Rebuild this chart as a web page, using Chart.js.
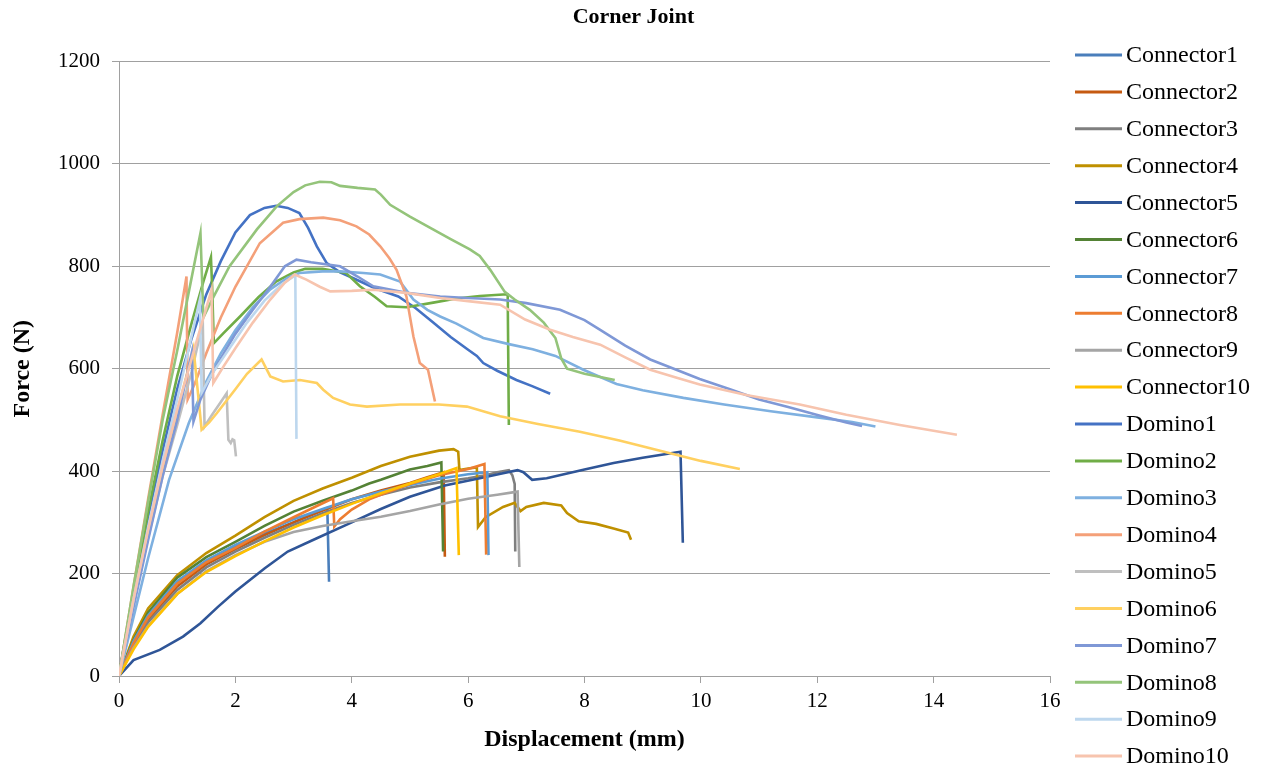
<!DOCTYPE html>
<html lang="en">
<head>
<meta charset="UTF-8">
<title>Corner Joint</title>
<script src="https://cdn.jsdelivr.net/npm/chart.js"></script>
<style>
    body { margin: 0; background: #fff; }
    #wrap { width: 1267px; height: 771px; }
</style>
</head>
<body>
<div id="wrap"><canvas id="chart" width="1267" height="771"></canvas></div>
<script>
// displacement (mm), force (N) pairs
const connector1 = [[0,0],[0.25,66],[0.5,118],[1,183],[1.5,222],[2,252],[2.5,278],[3,300],[3.3,315],[3.58,328],[3.61,184]];
const connector2 = [[0,0],[0.25,62],[0.5,110],[1,175],[1.5,218],[2,248],[2.5,275],[3,300],[3.5,323],[4,345],[4.5,362],[5,377],[5.3,388],[5.58,398],[5.6,233]];
const connector3 = [[0,0],[0.25,58],[0.5,105],[1,168],[1.5,212],[2,243],[2.5,270],[3,295],[3.5,318],[4,338],[4.5,354],[5,368],[5.5,378],[6,386],[6.3,392],[6.5,398],[6.7,402],[6.76,392],[6.8,375],[6.81,243]];
const connector4 = [[0,0],[0.25,77],[0.5,132],[1,197],[1.5,240],[2,274],[2.5,310],[3,342],[3.5,366],[4,387],[4.5,410],[5,428],[5.5,440],[5.75,443],[5.83,438],[5.85,402],[6,405],[6.15,407],[6.17,291],[6.3,310],[6.6,330],[6.8,338],[6.9,322],[7,330],[7.3,338],[7.6,333],[7.7,318],[7.9,302],[8.2,297],[8.5,288],[8.75,280],[8.8,266]];
const connector5 = [[0,0],[0.25,31],[0.7,51],[1.1,77],[1.4,103],[1.7,135],[2,165],[2.5,210],[2.9,243],[3.4,269],[4,300],[4.5,326],[5,350],[5.6,372],[6.2,386],[6.6,396],[6.85,402],[6.95,398],[7.1,383],[7.35,386],[8,403],[8.5,416],[9,426],[9.65,438],[9.69,260]];
const connector6 = [[0,0],[0.25,70],[0.5,124],[1,192],[1.5,232],[2,262],[2.5,293],[3,321],[3.5,342],[4,362],[4.3,376],[4.5,383],[5,403],[5.3,410],[5.54,417],[5.57,243]];
const connector7 = [[0,0],[0.25,68],[0.5,118],[1,185],[1.5,226],[2,256],[2.5,282],[3,306],[3.5,326],[4,345],[4.5,360],[5,373],[5.5,385],[6,394],[6.33,398],[6.35,236]];
const connector8 = [[0,0],[0.25,64],[0.5,114],[1,180],[1.5,222],[2,250],[2.5,282],[3,310],[3.4,332],[3.68,347],[3.7,292],[3.8,306],[4,325],[4.3,345],[4.6,358],[5,375],[5.5,392],[6,404],[6.28,414],[6.31,237]];
const connector9 = [[0,0],[0.25,55],[0.5,98],[1,160],[1.5,205],[2,236],[2.5,262],[3,281],[3.5,293],[4,302],[4.5,311],[5,322],[5.5,335],[6,346],[6.5,354],[6.85,360],[6.88,213]];
const connector10 = [[0,0],[0.25,52],[0.5,96],[1,160],[1.5,203],[2,234],[2.5,263],[3,290],[3.5,314],[4,336],[4.5,357],[5,376],[5.5,394],[5.8,406],[5.84,236]];

const domino1 = [[0,0],[0.25,165],[0.5,310],[0.75,440],[1,560],[1.25,660],[1.5,745],[1.75,810],[2,866],[2.25,900],[2.5,914],[2.7,918],[2.9,914],[3.1,904],[3.25,875],[3.4,839],[3.57,806],[3.8,788],[4,778],[4.4,757],[4.8,741],[5.1,718],[5.4,690],[5.7,662],[6,637],[6.15,625],[6.26,611],[6.5,596],[6.83,578],[7.1,566],[7.41,551]];
const domino2 = [[0,0],[0.25,165],[0.5,320],[0.75,460],[1,585],[1.25,690],[1.45,770],[1.58,818],[1.6,761],[1.63,650],[1.8,670],[2.08,702],[2.4,740],[2.7,770],[3,788],[3.2,795],[3.5,795],[3.9,787],[4.14,761],[4.4,740],[4.6,722],[4.94,720],[5.4,729],[5.8,737],[6.2,742],[6.6,745],[6.68,745],[6.7,490]];
const domino3 = [[0,0],[0.25,115],[0.5,230],[0.86,383],[1.2,494],[1.5,575],[1.75,630],[2,675],[2.3,720],[2.6,755],[2.9,778],[3.1,787],[3.5,790],[3.8,790],[4.2,787],[4.49,784],[4.83,770],[5.06,735],[5.3,715],[5.52,702],[5.8,688],[6.26,660],[6.7,648],[7.11,638],[7.5,625],[7.98,598],[8.55,570],[9,558],[9.7,543],[10.4,530],[11.2,517],[12,505],[12.6,496],[13,487]];
const domino4 = [[0,0],[0.25,175],[0.5,345],[0.75,510],[1,670],[1.16,780],[1.18,540],[1.3,570],[1.5,630],[1.75,700],[2,760],[2.42,845],[2.82,885],[3.1,892],[3.51,895],[3.8,890],[4.08,878],[4.3,862],[4.49,839],[4.65,815],[4.77,793],[4.94,741],[5.06,663],[5.17,611],[5.31,598],[5.43,536]];
const domino5 = [[0,0],[0.25,140],[0.5,270],[0.75,390],[1,490],[1.25,595],[1.44,690],[1.47,487],[1.6,510],[1.75,535],[1.85,552],[1.88,461],[1.92,455],[1.95,462],[1.98,460],[2.01,429]];
const domino6 = [[0,0],[0.25,145],[0.5,280],[0.75,400],[1,515],[1.28,640],[1.42,481],[1.55,495],[1.68,513],[2,560],[2.2,590],[2.45,618],[2.6,585],[2.82,575],[3.11,578],[3.4,572],[3.51,559],[3.68,543],[3.97,530],[4.26,526],[4.83,530],[5.5,530],[5.98,526],[6.55,507],[7.2,492],[7.92,477],[8.6,460],[9.3,440],[10,420],[10.67,404]];
const domino7 = [[0,0],[0.25,135],[0.5,265],[0.75,390],[1,500],[1.25,631],[1.28,497],[1.4,540],[1.6,590],[1.8,630],[2,668],[2.3,715],[2.6,760],[2.85,800],[3.05,813],[3.3,808],[3.8,800],[4.1,780],[4.37,761],[4.94,748],[5.52,741],[6,738],[6.55,735],[7,728],[7.58,715],[8,695],[8.27,676],[8.7,645],[9.13,618],[9.6,597],[9.98,580],[10.5,560],[11,540],[11.5,525],[12.05,508],[12.5,495],[12.77,488]];
const domino8 = [[0,0],[0.25,175],[0.5,340],[0.75,500],[1,635],[1.2,750],[1.4,865],[1.45,700],[1.6,735],[1.9,800],[2.37,872],[2.71,917],[3,945],[3.2,958],[3.45,965],[3.65,964],[3.8,957],[4.1,953],[4.4,950],[4.5,940],[4.66,920],[5,897],[5.35,875],[5.7,853],[6.03,833],[6.2,820],[6.38,793],[6.63,750],[6.8,735],[7.06,715],[7.3,690],[7.5,660],[7.6,620],[7.7,600],[8,590],[8.52,578]];
const domino9 = [[0,0],[0.25,150],[0.5,290],[0.75,420],[1,540],[1.2,640],[1.39,735],[1.42,553],[1.6,590],[1.9,640],[2.2,690],[2.5,733],[2.8,765],[3.03,782],[3.05,463]];
const domino10 = [[0,0],[0.25,150],[0.5,285],[0.75,410],[1,520],[1.3,640],[1.59,754],[1.62,572],[1.8,605],[2,640],[2.3,690],[2.6,735],[2.85,768],[3.02,784],[3.22,774],[3.45,760],[3.63,751],[4,752],[4.37,754],[4.94,748],[5.52,738],[6,732],[6.55,725],[6.98,696],[7.41,676],[7.8,662],[8.27,647],[8.7,622],[9.13,598],[9.6,582],[9.98,569],[10.8,548],[11.7,530],[12.5,510],[13.42,490],[14.4,471]];

const seriesNames = ['Connector1','Connector2','Connector3','Connector4','Connector5','Connector6','Connector7','Connector8','Connector9','Connector10',
    'Domino1','Domino2','Domino3','Domino4','Domino5','Domino6','Domino7','Domino8','Domino9','Domino10'];
const seriesData = [connector1, connector2, connector3, connector4, connector5, connector6, connector7, connector8, connector9, connector10,
    domino1, domino2, domino3, domino4, domino5, domino6, domino7, domino8, domino9, domino10];
const seriesColors = ['#4A7EBB','#C55A11','#7F7F7F','#BF9000','#2F5597','#548235','#5B9BD5','#ED7D31','#A5A5A5','#FFC000',
    '#4472C4','#70AD47','#7EB0E0','#F4A079','#BFBFBF','#FFD060','#7F98D6','#94C47A','#BDD7EE','#F7C4AE'];

const xTicks = [0, 2, 4, 6, 8, 10, 12, 14, 16];
const yTicks = [0, 200, 400, 600, 800, 1000, 1200];

const serif = '"Liberation Serif", "Times New Roman", serif';

// legend drawn by hand so it sits like the Excel one
const sideLegend = {
    id: 'sideLegend',
    afterDraw(chart) {
        const ctx = chart.ctx;
        ctx.save();
        ctx.font = '24px ' + serif;
        ctx.textBaseline = 'middle';
        chart.data.datasets.forEach((ds, i) => {
            const y = 55 + i * 36.9;
            ctx.strokeStyle = ds.borderColor;
            ctx.lineWidth = 3;
            ctx.beginPath();
            ctx.moveTo(1075, y);
            ctx.lineTo(1122, y);
            ctx.stroke();
            ctx.fillStyle = '#000';
            ctx.fillText(ds.label, 1126, y + 1);
        });
        ctx.restore();
    }
};

new Chart(document.getElementById('chart'), {
    type: 'scatter',
    data: {
        datasets: seriesNames.map((name, i) => ({
            label: name,
            data: seriesData[i].map(p => ({ x: p[0], y: p[1] })),
            borderColor: seriesColors[i],
            backgroundColor: seriesColors[i],
            borderWidth: 2.6,
            showLine: true,
            pointRadius: 0,
            tension: 0,
            order: seriesNames.length - i
        }))
    },
    options: {
        responsive: false,
        animation: false,
        layout: { padding: 0 },
        plugins: {
            legend: { display: false },
            tooltip: { enabled: false },
            title: {
                display: true,
                text: 'Corner Joint',
                color: '#000',
                font: { family: serif, size: 22, weight: 'bold' },
                padding: { top: 4, bottom: 31 }
            }
        },
        scales: {
            x: {
                type: 'linear',
                min: 0,
                max: 16,
                afterBuildTicks: axis => { axis.ticks = xTicks.map(v => ({ value: v })); },
                afterFit: axis => { axis.height = 95; },
                ticks: { color: '#000', font: { family: serif, size: 21 }, padding: 6, maxRotation: 0 },
                grid: { display: true, drawOnChartArea: false, drawTicks: true, tickLength: 7, color: '#a0a0a0' },
                border: { color: '#a0a0a0', width: 1 },
                title: {
                    display: true,
                    text: 'Displacement (mm)',
                    color: '#000',
                    font: { family: serif, size: 24, weight: 'bold' },
                    padding: { top: 0, bottom: 17 }
                }
            },
            y: {
                type: 'linear',
                min: 0,
                max: 1200,
                afterBuildTicks: axis => { axis.ticks = yTicks.map(v => ({ value: v })); },
                afterFit: axis => { axis.width = 119; },
                ticks: { color: '#000', font: { family: serif, size: 21 }, padding: 12, callback: v => String(v) },
                grid: { color: '#a0a0a0', lineWidth: 1, tickLength: 7 },
                border: { color: '#a0a0a0', width: 1 },
                title: {
                    display: true,
                    text: 'Force (N)',
                    color: '#000',
                    font: { family: serif, size: 24, weight: 'bold' },
                    padding: { top: 8, bottom: 0 }
                }
            },
            // empty right-hand axis that only reserves room for the legend
            legendSpace: {
                type: 'linear',
                position: 'right',
                display: true,
                grid: { display: false, drawTicks: false },
                ticks: { display: false },
                border: { display: false },
                afterFit: axis => { axis.width = 217; }
            }
        }
    },
    plugins: [sideLegend]
});
</script>
</body>
</html>
